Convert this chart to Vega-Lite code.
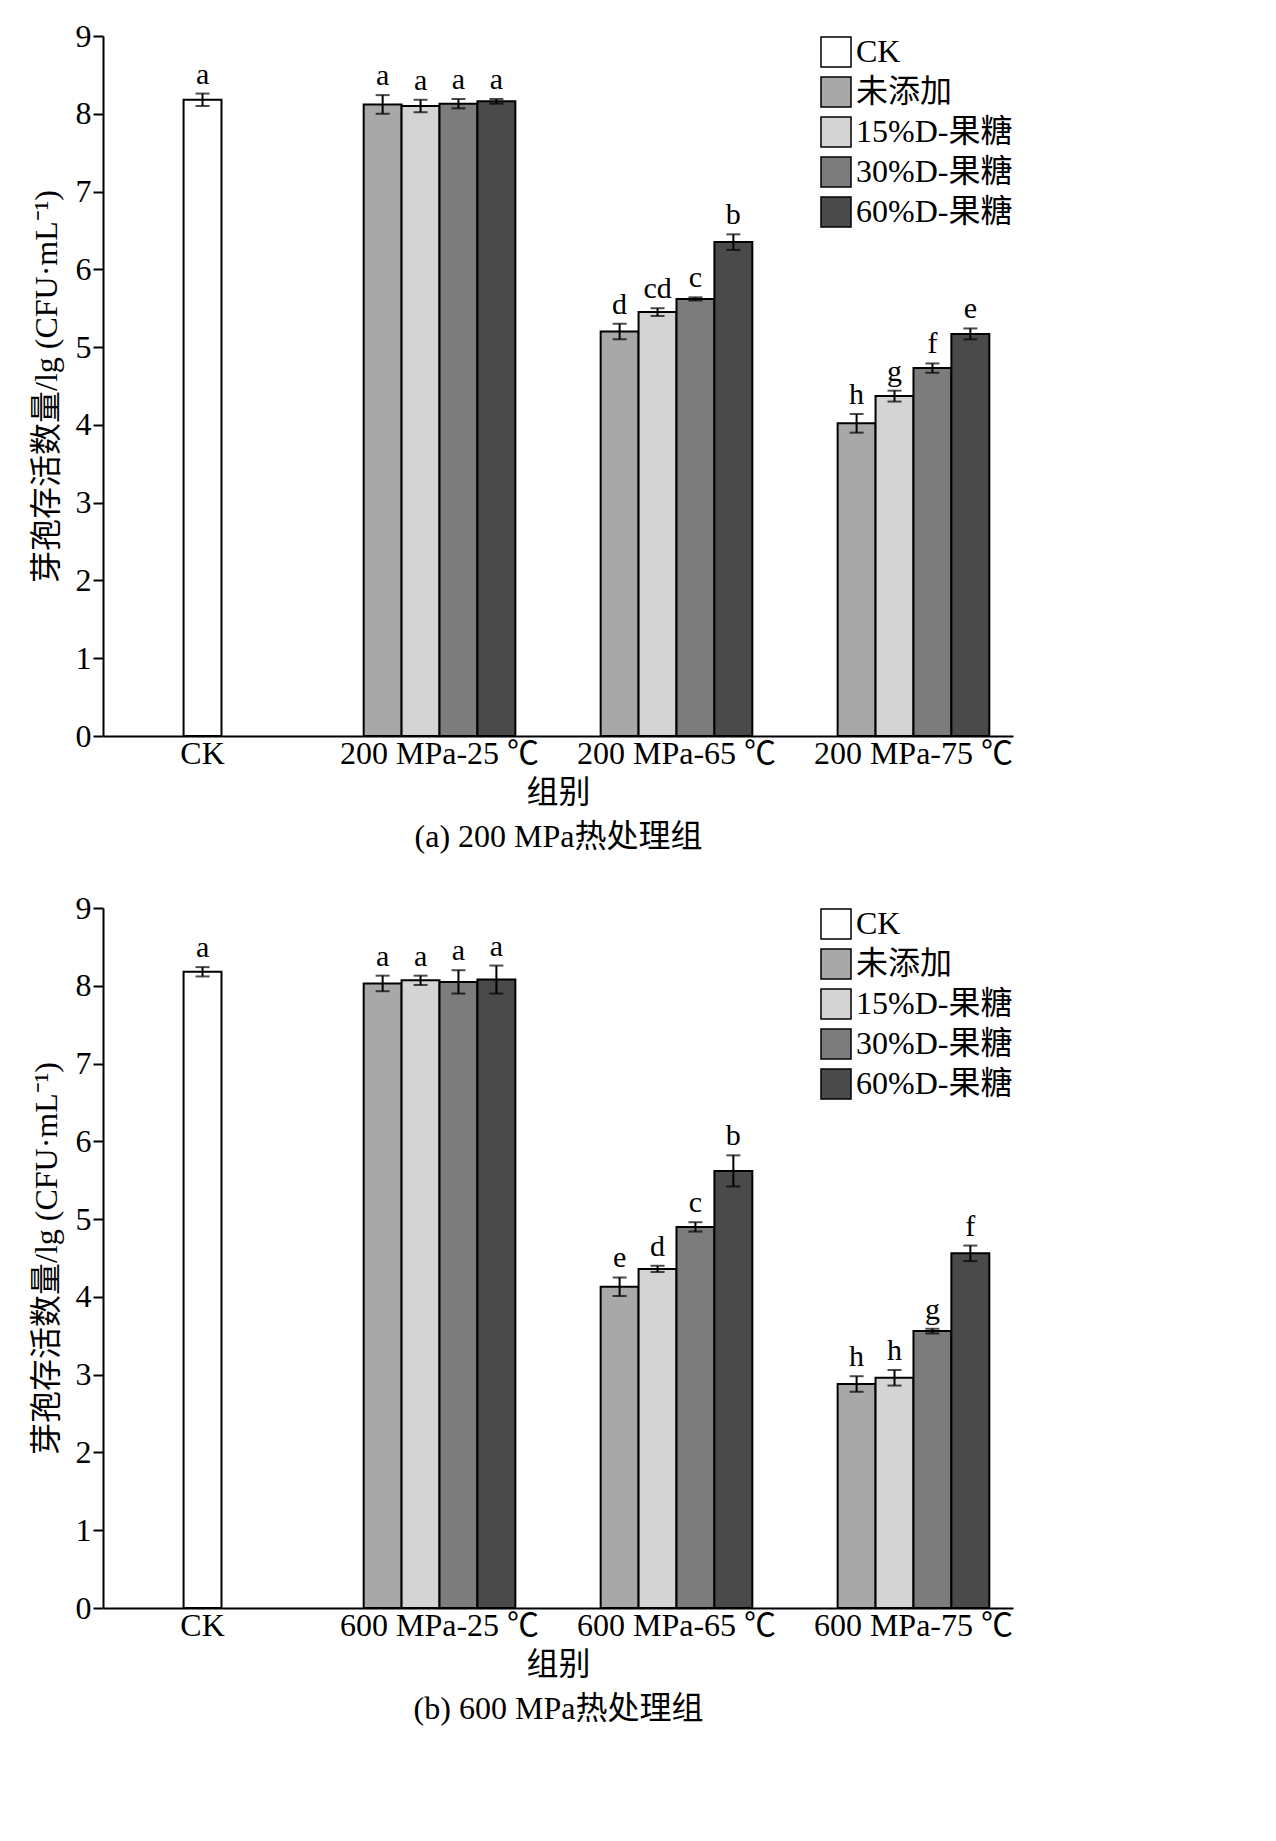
{
  "$schema": "https://vega.github.io/schema/vega-lite/v6.json",
  "background": "white",
  "padding": {"left": 30, "top": 20, "right": 20, "bottom": 10},
  "datasets": {
    "bars": [
      {"panel": "a", "group": "CK", "series": "CK", "value": 8.18, "err": 0.08, "sig": "a"},
      {"panel": "a", "group": "200 MPa-25 ℃", "series": "未添加", "value": 8.12, "err": 0.12, "sig": "a"},
      {"panel": "a", "group": "200 MPa-25 ℃", "series": "15%D-果糖", "value": 8.1, "err": 0.08, "sig": "a"},
      {"panel": "a", "group": "200 MPa-25 ℃", "series": "30%D-果糖", "value": 8.13, "err": 0.06, "sig": "a"},
      {"panel": "a", "group": "200 MPa-25 ℃", "series": "60%D-果糖", "value": 8.16, "err": 0.03, "sig": "a"},
      {"panel": "a", "group": "200 MPa-65 ℃", "series": "未添加", "value": 5.2, "err": 0.1, "sig": "d"},
      {"panel": "a", "group": "200 MPa-65 ℃", "series": "15%D-果糖", "value": 5.45, "err": 0.05, "sig": "cd"},
      {"panel": "a", "group": "200 MPa-65 ℃", "series": "30%D-果糖", "value": 5.62, "err": 0.02, "sig": "c"},
      {"panel": "a", "group": "200 MPa-65 ℃", "series": "60%D-果糖", "value": 6.35, "err": 0.1, "sig": "b"},
      {"panel": "a", "group": "200 MPa-75 ℃", "series": "未添加", "value": 4.02, "err": 0.12, "sig": "h"},
      {"panel": "a", "group": "200 MPa-75 ℃", "series": "15%D-果糖", "value": 4.37, "err": 0.07, "sig": "g"},
      {"panel": "a", "group": "200 MPa-75 ℃", "series": "30%D-果糖", "value": 4.73, "err": 0.06, "sig": "f"},
      {"panel": "a", "group": "200 MPa-75 ℃", "series": "60%D-果糖", "value": 5.17, "err": 0.07, "sig": "e"},
      {"panel": "b", "group": "CK", "series": "CK", "value": 8.18, "err": 0.06, "sig": "a"},
      {"panel": "b", "group": "600 MPa-25 ℃", "series": "未添加", "value": 8.03, "err": 0.1, "sig": "a"},
      {"panel": "b", "group": "600 MPa-25 ℃", "series": "15%D-果糖", "value": 8.07, "err": 0.06, "sig": "a"},
      {"panel": "b", "group": "600 MPa-25 ℃", "series": "30%D-果糖", "value": 8.05, "err": 0.15, "sig": "a"},
      {"panel": "b", "group": "600 MPa-25 ℃", "series": "60%D-果糖", "value": 8.08, "err": 0.18, "sig": "a"},
      {"panel": "b", "group": "600 MPa-65 ℃", "series": "未添加", "value": 4.13, "err": 0.12, "sig": "e"},
      {"panel": "b", "group": "600 MPa-65 ℃", "series": "15%D-果糖", "value": 4.36, "err": 0.04, "sig": "d"},
      {"panel": "b", "group": "600 MPa-65 ℃", "series": "30%D-果糖", "value": 4.9, "err": 0.06, "sig": "c"},
      {"panel": "b", "group": "600 MPa-65 ℃", "series": "60%D-果糖", "value": 5.62, "err": 0.2, "sig": "b"},
      {"panel": "b", "group": "600 MPa-75 ℃", "series": "未添加", "value": 2.88, "err": 0.1, "sig": "h"},
      {"panel": "b", "group": "600 MPa-75 ℃", "series": "15%D-果糖", "value": 2.96, "err": 0.1, "sig": "h"},
      {"panel": "b", "group": "600 MPa-75 ℃", "series": "30%D-果糖", "value": 3.56, "err": 0.03, "sig": "g"},
      {"panel": "b", "group": "600 MPa-75 ℃", "series": "60%D-果糖", "value": 4.56, "err": 0.1, "sig": "f"}
    ]
  },
  "config": {
    "font": "Liberation Serif, Noto Sans CJK SC",
    "view": {"stroke": null},
    "axis": {
      "labelFont": "Liberation Serif, Noto Sans CJK SC",
      "titleFont": "Liberation Serif, Noto Sans CJK SC",
      "labelFontSize": 32, "titleFontSize": 32, "titleFontWeight": "normal",
      "labelColor": "black", "titleColor": "black",
      "domainColor": "black", "tickColor": "black", "domainWidth": 2, "tickWidth": 2,
      "grid": false, "labelLimit": 0
    },
    "legend": {
      "labelFont": "Liberation Serif, Noto Sans CJK SC", "labelFontSize": 32, "labelColor": "black",
      "symbolType": "square", "symbolSize": 900, "symbolStrokeColor": "black", "symbolStrokeWidth": 1.5,
      "rowPadding": 4, "labelLimit": 0
    }
  },
  "vconcat": [
    {
      "width": 910, "height": 700,
      "data": {"name": "bars"},
      "transform": [
        {"filter": "datum.panel === 'a'"},
        {"calculate": "datum.value - datum.err", "as": "lo"},
        {"calculate": "datum.value + datum.err", "as": "hi"}
      ],
      "encoding": {
        "x": {"field": "group", "type": "nominal", "sort": null,
          "scale": {"domain": ["CK", "200 MPa-25 ℃", "200 MPa-65 ℃", "200 MPa-75 ℃"], "paddingInner": 0.36, "paddingOuter": 0.1},
          "axis": {"labelAngle": 0, "ticks": false, "title": ["组别", "(a) 200 MPa热处理组"], "titlePadding": 8, "titleLineHeight": 44}},
        "y": {"field": "value", "type": "quantitative", "scale": {"domain": [0, 9], "nice": false},
          "axis": {"values": [0,1,2,3,4,5,6,7,8,9], "tickSize": 10, "title": "芽孢存活数量/lg (CFU·mL⁻¹)", "titlePadding": 12}}
      },
      "layer": [
        {"transform": [{"filter": "datum.series === 'CK'"}],
         "mark": {"type": "bar", "stroke": "black", "strokeWidth": 2, "width": {"band": 0.25}},
         "encoding": {"fill": {"field": "series", "type": "nominal",
           "scale": {"domain": ["CK", "未添加", "15%D-果糖", "30%D-果糖", "60%D-果糖"], "range": ["#ffffff", "#a8a8a8", "#d4d4d4", "#7c7c7c", "#4a4a4a"]},
           "legend": {"title": null, "orient": "top-right", "offset": 0}}}},
        {"transform": [{"filter": "datum.series === 'CK'"}],
         "mark": {"type": "rule", "color": "black", "strokeWidth": 2}, "encoding": {"y": {"field": "lo", "type": "quantitative"}, "y2": {"field": "hi"}}},
        {"transform": [{"filter": "datum.series === 'CK'"}],
         "mark": {"type": "tick", "color": "black", "thickness": 2, "size": 14}, "encoding": {"y": {"field": "lo", "type": "quantitative"}}},
        {"transform": [{"filter": "datum.series === 'CK'"}],
         "mark": {"type": "tick", "color": "black", "thickness": 2, "size": 14}, "encoding": {"y": {"field": "hi", "type": "quantitative"}}},
        {"transform": [{"filter": "datum.series === 'CK'"}],
         "mark": {"type": "text", "fontSize": 30, "dy": -4, "baseline": "bottom"}, "encoding": {"y": {"field": "hi", "type": "quantitative"}, "text": {"field": "sig"}}},
        {"transform": [{"filter": "datum.series !== 'CK'"}],
         "mark": {"type": "bar", "stroke": "black", "strokeWidth": 2},
         "encoding": {"xOffset": {"field": "series", "type": "nominal", "scale": {"domain": ["未添加", "15%D-果糖", "30%D-果糖", "60%D-果糖"], "paddingInner": 0, "paddingOuter": 0}},
           "fill": {"field": "series", "type": "nominal"}}},
        {"transform": [{"filter": "datum.series !== 'CK'"}],
         "mark": {"type": "rule", "color": "black", "strokeWidth": 2},
         "encoding": {"xOffset": {"field": "series", "type": "nominal"}, "y": {"field": "lo", "type": "quantitative"}, "y2": {"field": "hi"}}},
        {"transform": [{"filter": "datum.series !== 'CK'"}],
         "mark": {"type": "tick", "color": "black", "thickness": 2, "size": 14},
         "encoding": {"xOffset": {"field": "series", "type": "nominal"}, "y": {"field": "lo", "type": "quantitative"}}},
        {"transform": [{"filter": "datum.series !== 'CK'"}],
         "mark": {"type": "tick", "color": "black", "thickness": 2, "size": 14},
         "encoding": {"xOffset": {"field": "series", "type": "nominal"}, "y": {"field": "hi", "type": "quantitative"}}},
        {"transform": [{"filter": "datum.series !== 'CK'"}],
         "mark": {"type": "text", "fontSize": 30, "dy": -4, "baseline": "bottom"},
         "encoding": {"xOffset": {"field": "series", "type": "nominal"}, "y": {"field": "hi", "type": "quantitative"}, "text": {"field": "sig"}}}
      ]
    },
    {
      "width": 910, "height": 700,
      "data": {"name": "bars"},
      "transform": [
        {"filter": "datum.panel === 'b'"},
        {"calculate": "datum.value - datum.err", "as": "lo"},
        {"calculate": "datum.value + datum.err", "as": "hi"}
      ],
      "encoding": {
        "x": {"field": "group", "type": "nominal", "sort": null,
          "scale": {"domain": ["CK", "600 MPa-25 ℃", "600 MPa-65 ℃", "600 MPa-75 ℃"], "paddingInner": 0.36, "paddingOuter": 0.1},
          "axis": {"labelAngle": 0, "ticks": false, "title": ["组别", "(b) 600 MPa热处理组"], "titlePadding": 8, "titleLineHeight": 44}},
        "y": {"field": "value", "type": "quantitative", "scale": {"domain": [0, 9], "nice": false},
          "axis": {"values": [0,1,2,3,4,5,6,7,8,9], "tickSize": 10, "title": "芽孢存活数量/lg (CFU·mL⁻¹)", "titlePadding": 12}}
      },
      "layer": [
        {"transform": [{"filter": "datum.series === 'CK'"}],
         "mark": {"type": "bar", "stroke": "black", "strokeWidth": 2, "width": {"band": 0.25}},
         "encoding": {"fill": {"field": "series", "type": "nominal",
           "scale": {"domain": ["CK", "未添加", "15%D-果糖", "30%D-果糖", "60%D-果糖"], "range": ["#ffffff", "#a8a8a8", "#d4d4d4", "#7c7c7c", "#4a4a4a"]},
           "legend": {"title": null, "orient": "top-right", "offset": 0}}}},
        {"transform": [{"filter": "datum.series === 'CK'"}],
         "mark": {"type": "rule", "color": "black", "strokeWidth": 2}, "encoding": {"y": {"field": "lo", "type": "quantitative"}, "y2": {"field": "hi"}}},
        {"transform": [{"filter": "datum.series === 'CK'"}],
         "mark": {"type": "tick", "color": "black", "thickness": 2, "size": 14}, "encoding": {"y": {"field": "lo", "type": "quantitative"}}},
        {"transform": [{"filter": "datum.series === 'CK'"}],
         "mark": {"type": "tick", "color": "black", "thickness": 2, "size": 14}, "encoding": {"y": {"field": "hi", "type": "quantitative"}}},
        {"transform": [{"filter": "datum.series === 'CK'"}],
         "mark": {"type": "text", "fontSize": 30, "dy": -4, "baseline": "bottom"}, "encoding": {"y": {"field": "hi", "type": "quantitative"}, "text": {"field": "sig"}}},
        {"transform": [{"filter": "datum.series !== 'CK'"}],
         "mark": {"type": "bar", "stroke": "black", "strokeWidth": 2},
         "encoding": {"xOffset": {"field": "series", "type": "nominal", "scale": {"domain": ["未添加", "15%D-果糖", "30%D-果糖", "60%D-果糖"], "paddingInner": 0, "paddingOuter": 0}},
           "fill": {"field": "series", "type": "nominal"}}},
        {"transform": [{"filter": "datum.series !== 'CK'"}],
         "mark": {"type": "rule", "color": "black", "strokeWidth": 2},
         "encoding": {"xOffset": {"field": "series", "type": "nominal"}, "y": {"field": "lo", "type": "quantitative"}, "y2": {"field": "hi"}}},
        {"transform": [{"filter": "datum.series !== 'CK'"}],
         "mark": {"type": "tick", "color": "black", "thickness": 2, "size": 14},
         "encoding": {"xOffset": {"field": "series", "type": "nominal"}, "y": {"field": "lo", "type": "quantitative"}}},
        {"transform": [{"filter": "datum.series !== 'CK'"}],
         "mark": {"type": "tick", "color": "black", "thickness": 2, "size": 14},
         "encoding": {"xOffset": {"field": "series", "type": "nominal"}, "y": {"field": "hi", "type": "quantitative"}}},
        {"transform": [{"filter": "datum.series !== 'CK'"}],
         "mark": {"type": "text", "fontSize": 30, "dy": -4, "baseline": "bottom"},
         "encoding": {"xOffset": {"field": "series", "type": "nominal"}, "y": {"field": "hi", "type": "quantitative"}, "text": {"field": "sig"}}}
      ]
    }
  ],
  "spacing": 40,
  "resolve": {"legend": {"fill": "independent"}}
}
